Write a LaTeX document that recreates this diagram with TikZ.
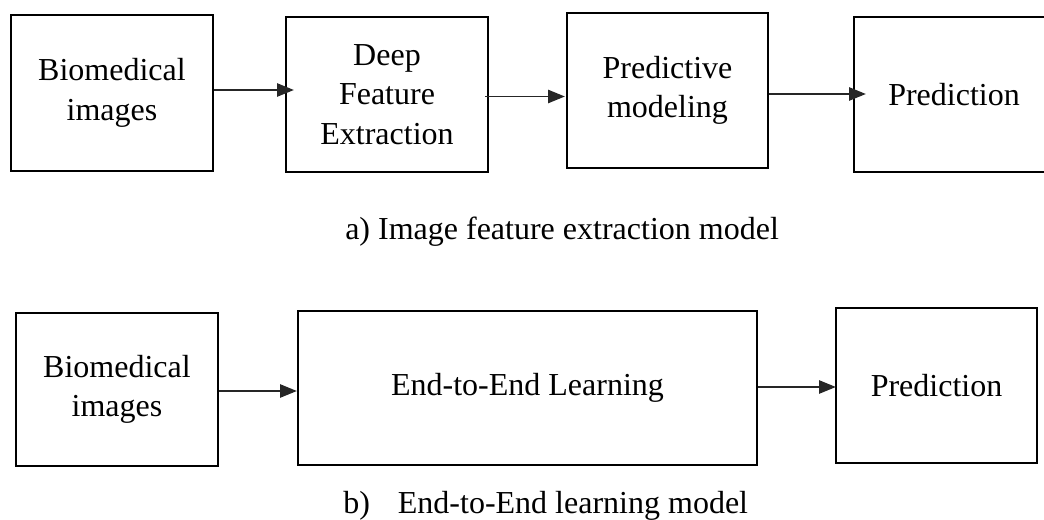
\documentclass[tikz,border=0pt]{standalone}
\usepackage{fontspec}
\setmainfont{Liberation Serif}
\usetikzlibrary{arrows.meta,calc}
\begin{document}
\begin{tikzpicture}[x=0.75pt,y=-0.75pt,
  box/.style={draw=black,line width=1.8pt,inner sep=0pt,align=center,
    font=\fontsize{24}{29.5}\selectfont},
  arr/.style={draw=black!85,line width=0.9pt,-{Triangle[length=12.5pt,width=10pt]}},
  captxt/.style={inner sep=0pt,anchor=base west,font=\fontsize{24}{29.5}\selectfont}]
\useasboundingbox[fill=white] (0,0) rectangle (1044,520);
% top row
\node[box,minimum width=202pt*0.75,minimum height=156pt*0.75] (a1) at (112,93) {Biomedical\\images};
\node[box,minimum width=202pt*0.75,minimum height=155pt*0.75] (a2) at (387,94.5) {Deep\\Feature\\Extraction};
\node[box,minimum width=201pt*0.75,minimum height=155pt*0.75] (a3) at (667.5,90.5) {Predictive\\modeling};
\node[box,minimum width=200pt*0.75,minimum height=155pt*0.75] (a4) at (954,94.5) {Prediction};
\draw[arr] ($(a1.east)+(0,-3)$) -- ($(a2.west)+(9,-4.5)$);
\draw[arr] ($(a2.east)+(-4,2)$) -- ($(a3.west)+(-1,6)$);
\draw[arr] ($(a3.east)+(0,3.5)$) -- ($(a4.west)+(13,-0.5)$);
\node[captxt] (capa) at (345,239) {a) Image feature extraction model};
% bottom row
\node[box,minimum width=202pt*0.75,minimum height=153pt*0.75] (b1) at (117,389.5) {Biomedical\\images};
\node[box,minimum width=459pt*0.75,minimum height=154pt*0.75] (b2) at (527.5,388) {End-to-End Learning};
\node[box,minimum width=201pt*0.75,minimum height=155pt*0.75] (b3) at (936.5,385.5) {Prediction};
\draw[arr] ($(b1.east)+(0,1.5)$) -- ($(b2.west)+(0,3)$);
\draw[arr] ($(b2.east)+(0,-1)$) -- ($(b3.west)+(1,1.5)$);
\node[captxt] (capb) at (343,513) {b)\hspace{21pt}End-to-End learning model};
\end{tikzpicture}
\end{document}
